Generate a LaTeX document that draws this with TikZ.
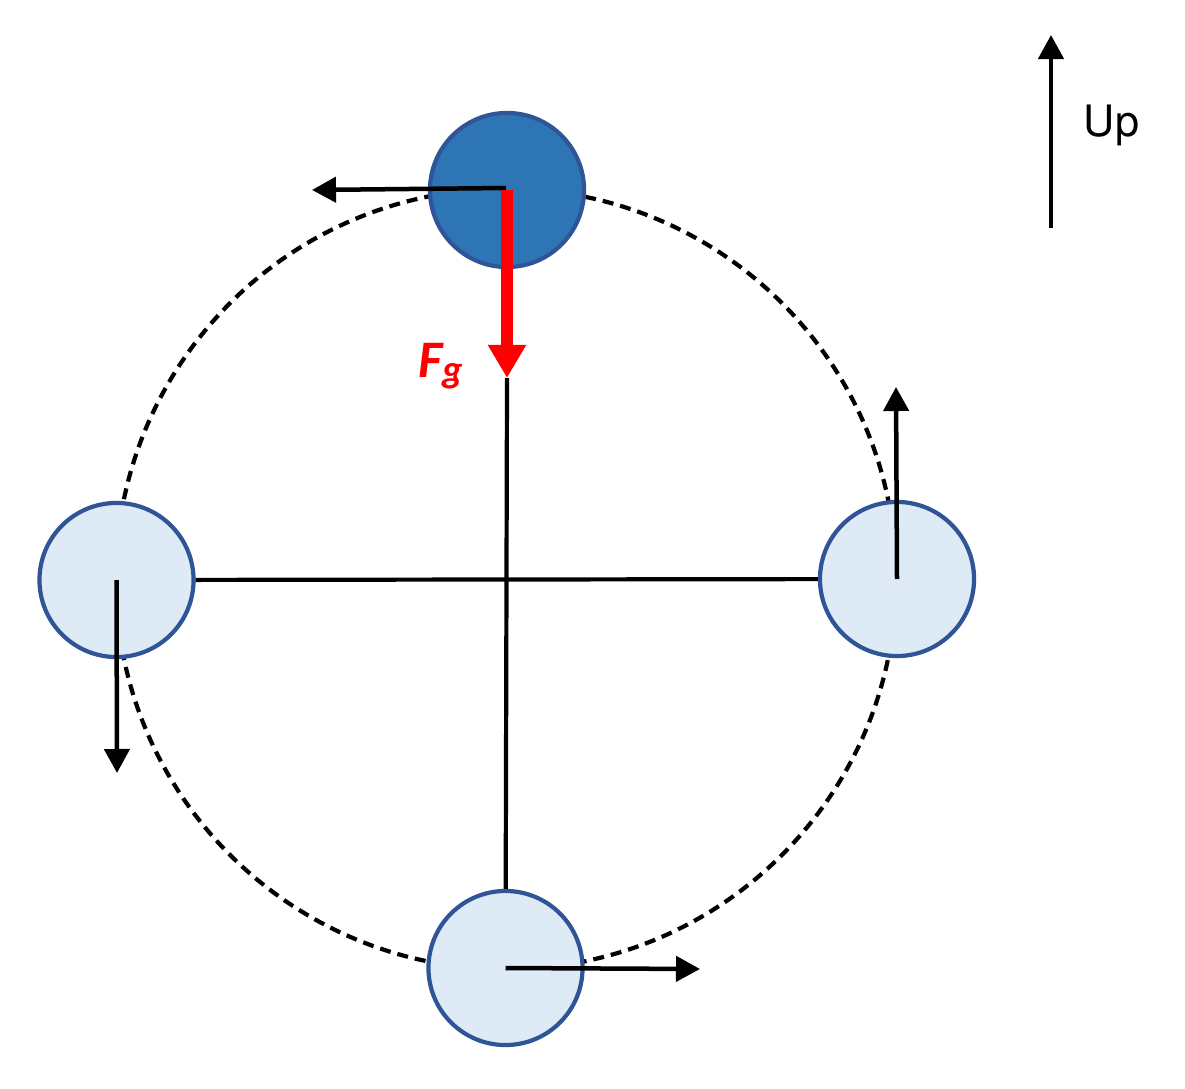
\documentclass[tikz,border=0pt]{standalone}
\usepackage{fontspec}
\setmainfont{TeX Gyre Heros}
\newfontfamily\carl{Carlito}
\usetikzlibrary{arrows.meta}
\definecolor{darkball}{HTML}{2E75B6}
\definecolor{ballborder}{HTML}{2F5597}
\definecolor{lightball}{HTML}{DEEBF7}
\begin{document}
\begin{tikzpicture}[x=0.01cm,y=-0.01cm,
  ball/.style={circle, draw=ballborder, line width=0.042cm, minimum size=1.54cm, inner sep=0pt, fill=lightball},
  vel/.style={line width=0.045cm, -{Triangle[length=0.24cm,width=0.25cm]}},
  rod/.style={line width=0.042cm},
  orbit/.style={line width=0.042cm, dash pattern=on 0.11cm off 0.07cm},
  force/.style={red, line width=0.12cm, -{Triangle[length=0.33cm,width=0.36cm]}}]
\useasboundingbox (0,0) rectangle (1185,1088);
\coordinate (center) at (506,579);
\draw[orbit] (center) circle[radius=3.9cm];
\node[ball] (left) at (116.5,580) {};
\node[ball] (right) at (897,579) {};
\node[ball] (bottom) at (505.5,968) {};
\node[ball, fill=darkball] (top) at (507,190) {};
\coordinate (fgtip) at (507,378);
\coordinate (topv) at (312,190);
\coordinate (rightv) at (896,387);
\coordinate (leftv) at (117,773);
\coordinate (bottomv) at (700,969);
\coordinate (upbase) at (1051,228);
\coordinate (uptip) at (1051,35);
\draw[rod] (left) -- (right);
\draw[rod] (fgtip) -- (bottom);
\draw[vel] (506,188) -- (topv);
\draw[force] (top.center) -- (fgtip);
\draw[vel] (right.center) -- (rightv);
\draw[vel] (left.center) -- (leftv);
\draw[vel] (bottom.center) -- (bottomv);
\draw[vel] (upbase) -- (uptip);
\node[anchor=west, inner sep=0pt, font=\fontsize{12.3}{14}\selectfont] (uplabel) at (1083,125) {Up};
\node[red, anchor=base west, inner sep=0pt, font=\carl\bfseries\itshape\fontsize{15}{18}\selectfont] (fg) at (418,377) {F\raisebox{-1.5pt}{\fontsize{11}{12}\selectfont g}};
\end{tikzpicture}
\end{document}
